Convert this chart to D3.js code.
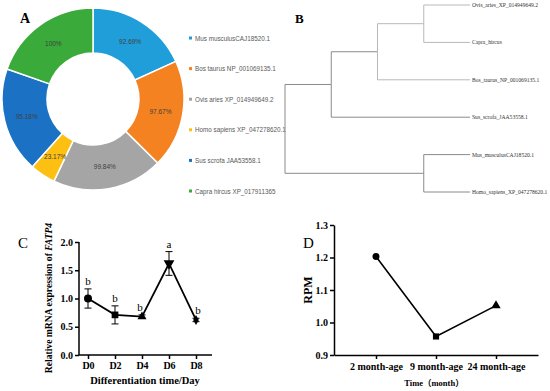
<!DOCTYPE html>
<html><head><meta charset="utf-8">
<script src="https://cdn.jsdelivr.net/npm/d3@7"></script>
<style>
body{margin:0;background:#fff;}
svg{display:block;}
.serif{font-family:"Liberation Serif","Times New Roman",serif;}
</style>
</head><body>
<svg id="c" width="550" height="391"></svg>
<script>
// ---- Panel A data ----
const pieLabels = ["Mus musculusCAJ18520.1","Bos taurus NP_001069135.1","Ovis aries XP_014949649.2","Homo sapiens XP_047278620.1","Sus scrofa JAA53558.1","Capra hircus XP_017911365"];
const pieValues = [92.69, 97.67, 99.84, 23.17, 95.18, 100];
const pieColors = ["#1f9ed9","#f58220","#a5a5a5","#fdbf11","#1b72c4","#3aaa3a"];

// ---- Panel B data ----
const treeIds = ["root","n1","n2","n3","Ovis_aries_XP_014949649.2","Capra_hircus","Bos_taurus_NP_001069135.1","Sus_scrofa_JAA53558.1","n4","Mus_musculusCAJ18520.1","Homo_sapiens_XP_047278620.1"];
const treeParents = ["","root","n1","n2","n3","n3","n2","n1","root","n4","n4"];
const treeBranchLengths = [0,1,1,1,1,1,2,3,3,1,1];

// ---- Panel C data ----
const daysC = ["D0","D2","D4","D6","D8"];
const exprC = [1.00, 0.71, 0.68, 1.62, 0.62];
const errC = [0.17, 0.16, 0.03, 0.21, 0.03];
const sigC = ["b","b","b","a","b"];
const ticksC = [0, 0.5, 1.0, 1.5, 2.0];

// ---- Panel D data ----
const agesD = ["2 month-age","9 month-age","24 month-age"];
const rpmD = [1.203, 0.957, 1.052];
const ticksD = [0.9, 1.0, 1.1, 1.2, 1.3];

const svg = d3.select("#c");
svg.append("rect").attr("width",550).attr("height",391).attr("fill","#fff");

// ================= A =================
const gA = svg.append("g");
gA.append("text").attr("class","serif").attr("x",20).attr("y",23)
  .attr("font-size",14).attr("font-weight","bold").text("A");
const pie = d3.pie().sort(null).value(d=>d);
const arc = d3.arc().innerRadius(46).outerRadius(91);
const gPie = gA.append("g").attr("transform","translate(93,99)");
const arcs = pie(pieValues);
gPie.selectAll("path").data(arcs).join("path")
  .attr("d",arc).attr("fill",(d,i)=>pieColors[i])
  .attr("stroke","#fff").attr("stroke-width",1.5);
gPie.selectAll("text").data(arcs).join("text")
  .attr("transform",d=>`translate(${arc.centroid(d)})`)
  .attr("text-anchor","middle").attr("dominant-baseline","central")
  .attr("font-family","'Liberation Sans',Arial,sans-serif").attr("font-size",6.5)
  .attr("fill","#404040").text(d=>d.data+"%");
const legY = d3.scalePoint().domain(pieLabels).range([38,191]);
const gLeg = gA.append("g");
gLeg.selectAll("rect").data(pieLabels).join("rect")
  .attr("x",189).attr("y",d=>legY(d)-1.5).attr("width",3).attr("height",3)
  .attr("fill",(d,i)=>pieColors[i]);
gLeg.selectAll("text").data(pieLabels).join("text")
  .attr("x",195).attr("y",d=>legY(d)).attr("dominant-baseline","central")
  .attr("font-family","'Liberation Sans',Arial,sans-serif").attr("font-size",6.3)
  .attr("fill","#595959").text(d=>d);

// ================= B =================
const gB = svg.append("g");
gB.append("text").attr("class","serif").attr("x",295).attr("y",23)
  .attr("font-size",13).attr("font-weight","bold").text("B");
const table = treeIds.map((id,i)=>({id, parent:treeParents[i]||null, len:treeBranchLengths[i]}));
const root = d3.stratify().id(d=>d.id).parentId(d=>d.parent)(table);
root.eachBefore(n=>{ n.dist = n.parent ? n.parent.dist + n.data.len : 0; });
const leaves = root.leaves();
const bx = d3.scaleLinear().domain([0,4]).range([285,470]);
const by = d3.scaleLinear().domain([0,leaves.length-1]).range([5,192]);
leaves.forEach((l,i)=>l.yy = by(i));
root.eachAfter(n=>{ if(n.children) n.yy = d3.mean(n.children, c=>c.yy); });
const lightSet = new Set(["n3","Ovis_aries_XP_014949649.2","Capra_hircus","Bos_taurus_NP_001069135.1"]);
gB.selectAll("path.link").data(root.descendants().filter(n=>n.parent)).join("path")
  .attr("class","link").attr("fill","none")
  .attr("stroke",n=>lightSet.has(n.id)?"#b8b8b8":"#8a8a8a").attr("stroke-width",1)
  .attr("d",n=>`M${bx(n.parent.dist)},${n.parent.yy}V${n.yy}H${bx(n.dist)}`);
gB.selectAll("text.leaf").data(leaves).join("text")
  .attr("class","leaf serif").attr("x",n=>bx(n.dist)+2).attr("y",n=>n.yy)
  .attr("dominant-baseline","central").attr("font-size",5.6).attr("fill","#333")
  .text(n=>n.id);

// ================= C =================
const gC = svg.append("g").attr("class","serif");
gC.append("text").attr("x",18).attr("y",248).attr("font-size",15).text("C");
const xC = d3.scalePoint().domain(daysC).range([88,196]);
const yC = d3.scaleLinear().domain([0,2]).range([355,242]);
const axC = gC.append("g").attr("transform","translate(0,355)")
  .call(d3.axisBottom(xC).tickSize(4).tickSizeOuter(0).tickPadding(3));
axC.select(".domain").attr("d","M79,0H212");
const ayC = gC.append("g").attr("transform","translate(79,0)")
  .call(d3.axisLeft(yC).tickValues(ticksC).tickFormat(d3.format(".1f")).tickSize(4).tickSizeOuter(0).tickPadding(2));
[axC, ayC].forEach(a=>{
  a.selectAll("path,line").attr("stroke","#000").attr("stroke-width",1.5);
  a.selectAll("text").attr("font-family","'Liberation Serif',serif").attr("font-weight","bold")
    .attr("font-size",10).attr("fill","#000");
});
ayC.select(".domain").attr("d","M0,242V355");
// error bars
const gErr = gC.append("g").attr("stroke","#000").attr("stroke-width",1);
daysC.forEach((d,i)=>{
  const x = xC(d), t = yC(exprC[i]+errC[i]), b = yC(exprC[i]-errC[i]);
  gErr.append("line").attr("x1",x).attr("x2",x).attr("y1",t).attr("y2",b);
  gErr.append("line").attr("x1",x-3.5).attr("x2",x+3.5).attr("y1",t).attr("y2",t);
  gErr.append("line").attr("x1",x-3.5).attr("x2",x+3.5).attr("y1",b).attr("y2",b);
});
gC.append("path").datum(exprC).attr("fill","none").attr("stroke","#000").attr("stroke-width",1.8)
  .attr("d",d3.line().x((v,i)=>xC(daysC[i])).y(v=>yC(v)));
const symC = [d3.symbolCircle, d3.symbolSquare, d3.symbolTriangle, d3.symbolTriangle, d3.symbolDiamond];
const rotC = [0,0,0,180,0];
const sizeC = [50,45,35,50,28];
gC.selectAll("path.mk").data(exprC).join("path").attr("class","mk")
  .attr("transform",(v,i)=>`translate(${xC(daysC[i])},${yC(v)}) rotate(${rotC[i]})`)
  .attr("d",(v,i)=>d3.symbol(symC[i], sizeC[i])()).attr("fill","#000");
const sigDx = [0,0,-2,0,2];
gC.selectAll("text.sig").data(sigC).join("text").attr("class","sig")
  .attr("x",(s,i)=>xC(daysC[i])+sigDx[i]).attr("y",(s,i)=>yC(exprC[i]+errC[i])-4)
  .attr("text-anchor","middle").attr("font-size",11).text(s=>s);
gC.append("text").attr("transform","translate(52,298) rotate(-90)").attr("text-anchor","middle")
  .attr("font-size",9.6).attr("font-weight","bold")
  .call(t=>{ t.append("tspan").text("Relative mRNA expression of "); t.append("tspan").attr("font-style","italic").text("FATP4"); });
gC.append("text").attr("x",145).attr("y",384).attr("text-anchor","middle")
  .attr("font-size",10.5).attr("font-weight","bold").text("Differentiation time/Day");

// ================= D =================
const gD = svg.append("g").attr("class","serif");
gD.append("text").attr("x",303).attr("y",248).attr("font-size",15).text("D");
const xD = d3.scalePoint().domain(agesD).range([334,538]).padding(0.7);
const yD = d3.scaleLinear().domain([0.9,1.3]).range([355,225]);
const axD = gD.append("g").attr("transform","translate(0,355)")
  .call(d3.axisBottom(xD).tickSize(4).tickSizeOuter(0).tickPadding(4));
const ayD = gD.append("g").attr("transform","translate(334,0)")
  .call(d3.axisLeft(yD).tickValues(ticksD).tickFormat(d3.format(".1f")).tickSize(4).tickSizeOuter(0).tickPadding(2));
[axD, ayD].forEach(a=>{
  a.selectAll("path,line").attr("stroke","#000").attr("stroke-width",1.5);
  a.selectAll("text").attr("font-family","'Liberation Serif',serif").attr("font-weight","bold")
    .attr("font-size",10).attr("fill","#000");
});
gD.append("path").datum(rpmD).attr("fill","none").attr("stroke","#000").attr("stroke-width",1.6)
  .attr("d",d3.line().x((v,i)=>xD(agesD[i])).y(v=>yD(v)));
const symD = [d3.symbolCircle, d3.symbolSquare, d3.symbolTriangle];
gD.selectAll("path.mk").data(rpmD).join("path").attr("class","mk")
  .attr("transform",(v,i)=>`translate(${xD(agesD[i])},${yD(v)})`)
  .attr("d",(v,i)=>d3.symbol(symD[i], 38)()).attr("fill","#000");
gD.append("text").attr("transform","translate(312,290) rotate(-90)").attr("text-anchor","middle")
  .attr("font-size",12).attr("font-weight","bold").text("RPM");
gD.append("text").attr("x",434).attr("y",386).attr("text-anchor","middle")
  .attr("font-family","'Liberation Serif','Noto Sans CJK SC',serif")
  .attr("font-size",8.5).attr("font-weight","bold").text("Time（month）");
</script>
</body></html>
